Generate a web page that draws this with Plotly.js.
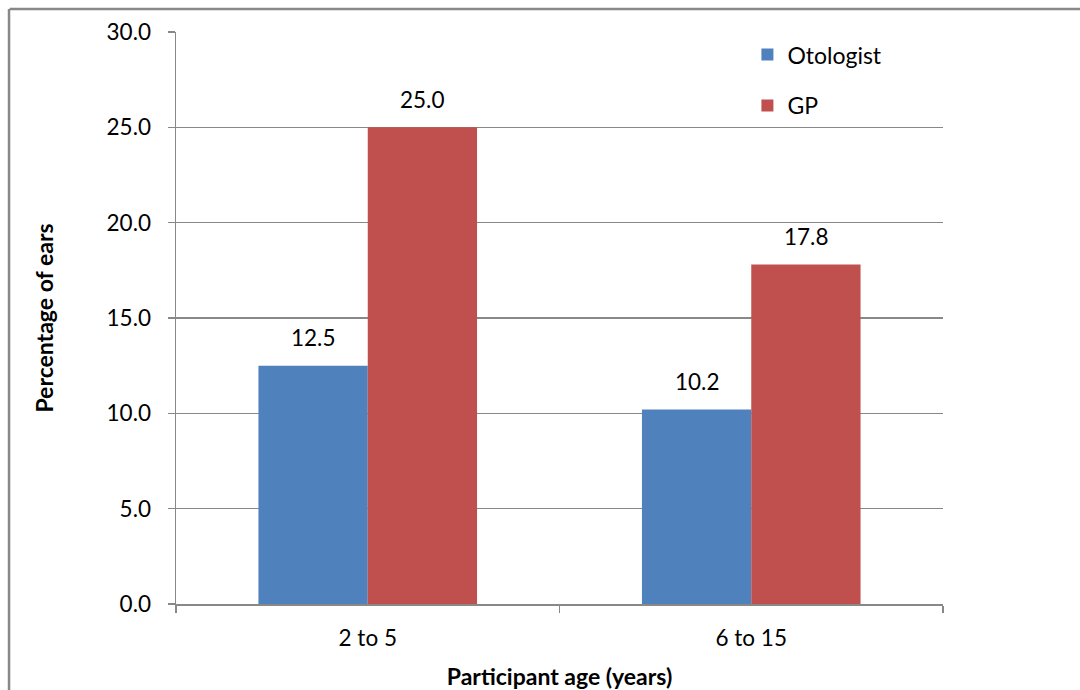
<!DOCTYPE html>
<html><head><meta charset="utf-8">
<script src="https://cdn.plot.ly/plotly-3.0.1.min.js"></script>
<style>html,body{margin:0;padding:0;background:#fff;}#chart{width:1080px;height:690px;}</style>
</head><body><div id="chart"></div>
<script>
const categories = ["2 to 5", "6 to 15"];
const otologist = [12.5, 10.2];
const gp = [25.0, 17.8];
const seriesNames = ["Otologist", "GP"];
const colors = ["#4F81BD", "#C0504D"];
const yTicks = [0, 5, 10, 15, 20, 25, 30];

const font = "Lato, 'Open Sans', sans-serif";
const series = [otologist, gp];
const traces = series.map((vals, i) => ({
  type: "bar", x: categories, y: vals, name: seriesNames[i],
  marker: {color: colors[i]}, legendgroup: "g" + i,
  hoverinfo: "none"
}));

const shifts = [-54.5, 54.5];
const annotations = [];
series.forEach((vals, i) => {
  vals.forEach((v, j) => {
    annotations.push({
      x: categories[j], y: v, xref: "x", yref: "y",
      text: v.toFixed(1), showarrow: false,
      xshift: shifts[i], yshift: 28, yanchor: "middle", xanchor: "center",
      font: {size: 22.5, color: "#000", family: font}
    });
  });
});

const layout = {
  width: 1080, height: 690,
  margin: {l: 176, r: 137, t: 32, b: 86},
  paper_bgcolor: "#fff", plot_bgcolor: "#fff",
  font: {family: font, size: 22, color: "#000"},
  barmode: "group", bargap: 0.43, bargroupgap: 0,
  showlegend: true,
  legend: {x: 0.745, y: 0.998, xanchor: "left", yanchor: "top",
           traceorder: "grouped", tracegroupgap: 18, font: {size: 23},
           itemwidth: 30, bgcolor: "rgba(0,0,0,0)"},
  xaxis: {type: "category", range: [-0.5, 1.5], tickson: "boundaries",
          ticks: "outside", ticklen: 7, tickcolor: "#888", tickwidth: 1.5,
          showline: true, linecolor: "#888", linewidth: 1.5,
          tickfont: {size: 22.5}, showgrid: false, ticklabelstandoff: 13,
          title: {text: "<b>Participant age (years)</b>", font: {size: 23}, standoff: 21}},
  yaxis: {range: [0, 30], tickvals: yTicks, ticktext: yTicks.map(v => v.toFixed(1)),
          ticks: "outside", ticklen: 7, tickcolor: "#888", tickwidth: 1.5,
          showline: true, linecolor: "#888", linewidth: 1.5,
          showgrid: true, gridcolor: "#888", gridwidth: 1.2,
          zeroline: false, tickfont: {size: 22.5}, ticklabelstandoff: 12,
          title: {text: "<b>Percentage of ears</b>", font: {size: 23}, standoff: 46}},
  annotations: annotations,
  shapes: [
    {type: "line", xref: "paper", yref: "paper", x0: -0.217, x1: 1.3, y0: 1.0402, y1: 1.0402, line: {color: "#888", width: 2.5}},
    {type: "line", xref: "paper", yref: "paper", x0: -0.2177, x1: -0.2177, y0: 1.0402, y1: -0.2, line: {color: "#888", width: 2.5}}
  ]
};
Plotly.newPlot("chart", traces, layout, {displayModeBar: false, staticPlot: true});
</script></body></html>
